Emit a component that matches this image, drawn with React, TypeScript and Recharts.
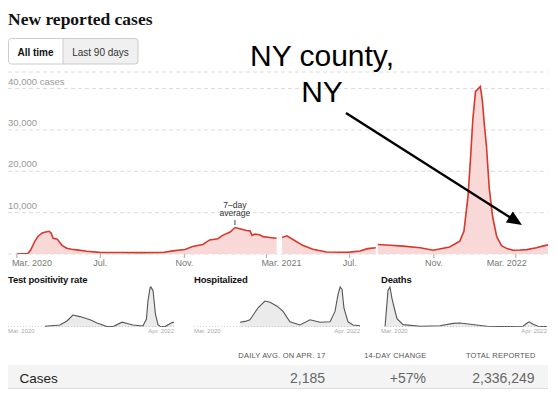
import React from 'react';
import { AreaChart, Area, XAxis, YAxis, CartesianGrid, ReferenceLine } from 'recharts';

// ---- Main chart: 7-day average of new reported cases (day 0 = Mar. 1, 2020)
const caseDays = [0, 16, 20, 26, 31, 37, 42, 47, 50, 53, 59, 66, 73, 80, 88, 102, 121, 151, 180, 214,
  228, 246, 257, 272, 282, 294, 301, 312, 319, 326, 336, 341, 344, 348, 355, 360, 370, 380, 381, 388,
  395, 407, 418, 433, 453, 472, 487, 502, 513, 525, 526, 528, 546, 565, 590, 609, 633, 648, 654, 660,
  664, 667, 671, 674, 678, 681, 684, 687, 691, 696, 702, 709, 717, 726, 736, 746, 760, 769, 777];
const caseValues: (number | null)[] = [0, 100, 900, 3000, 4300, 5100, 5300, 5500, 5100, 3800, 3600, 2100, 1400, 1150, 1000, 650, 400, 350, 330, 380,
  750, 1100, 1800, 2300, 3400, 3700, 4500, 5300, 6400, 6100, 5700, 5600, 4500, 4800, 4650, 4200, 4000, 3800, null, 4000,
  4400, 3200, 2100, 1150, 490, 430, 450, 740, 1300, 1500, null, 2300, 2100, 1900, 1500, 900, 1700, 3100, 5500, 14000,
  24000, 32500, 39300, 39800, 40500, 37000, 31000, 26000, 16000, 9000, 4200, 2000, 1300, 900, 950, 1050, 1500, 1900, 2200];

const monthTickDays = [0, 122, 245, 365, 487, 610, 730];
const monthTickLabels = ['Mar. 2020', 'Jul.', 'Nov.', 'Mar. 2021', 'Jul.', 'Nov.', 'Mar. 2022'];
const yTicks = [10000, 20000, 30000, 40000];
const yTickLabels = ['10,000', '20,000', '30,000', '40,000 cases'];
const annotationDay = 319;

// ---- Small multiples (relative scale, peak = 100)
const positivityDays = [173, 243, 276, 304, 337, 384, 417, 463, 492, 534, 562, 585, 618, 632, 648, 655, 665, 669, 679, 690, 702, 712, 735, 768, 777];
const positivityValues = [2, 5, 15, 30, 26, 18, 10, 1, 1, 12, 8, 5, 3, 3, 20, 65, 98, 100, 90, 33, 6, 2, 1, 11, 12];
const hospDays = [215, 239, 262, 300, 332, 356, 389, 417, 449, 496, 543, 590, 637, 660, 674, 684, 693, 702, 721, 744, 777];
const hospValues = [12, 14, 18, 48, 65, 62, 52, 39, 13, 5, 18, 12, 13, 39, 81, 100, 94, 47, 13, 5, 3];
const deathDays = [19, 33, 42, 51, 61, 75, 103, 183, 276, 337, 370, 417, 496, 571, 665, 684, 693, 712, 735, 758, 777];
const deathValues = [2, 92, 100, 72, 50, 21, 6, 2, 3, 9, 10, 7, 2, 1, 2, 10, 13, 7, 2, 1, 1];

const panelTitles = ['Test positivity rate', 'Hospitalized', 'Deaths'];
const panelStart = 'Mar. 2020';
const panelEnd = 'Apr. 2022';

// ---- Table
const tableHeaders = ['DAILY AVG. ON APR. 17', '14-DAY CHANGE', 'TOTAL REPORTED'];
const tableRowLabel = 'Cases';
const tableValues = ['2,185', '+57%', '2,336,249'];

const caseData = caseDays.map((d, i) => ({ d, v: caseValues[i] }));
const toData = (days: number[], vals: number[]) => days.map((d, i) => ({ d, v: vals[i] }));
const panels = [
  toData(positivityDays, positivityValues),
  toData(hospDays, hospValues),
  toData(deathDays, deathValues),
];

const SANS = '"Liberation Sans", Arial, sans-serif';
const SERIF = '"Liberation Serif", "Times New Roman", serif';

const MonthTick = (props: any) => {
  const { x, y, payload } = props;
  const i = monthTickDays.indexOf(payload.value);
  const label = monthTickLabels[i];
  let anchor: 'start' | 'middle' | 'end' = 'middle';
  let dx = 0;
  if (i === monthTickDays.length - 1) { anchor = 'end'; dx = 11; }
  else if (label.startsWith('Mar.')) { anchor = 'start'; dx = -5; }
  return (
    <text x={x + dx} y={y} dy="0.71em" textAnchor={anchor} fontSize={9} fill="#777" fontFamily={SANS}>
      {label}
    </text>
  );
};

const GridLabel = (props: any) => {
  const vb = props.viewBox || {};
  return (
    <text x={(vb.x ?? 8)} y={(vb.y ?? 0) - 4} textAnchor="start" fontSize={9.5} fill="#999" fontFamily={SANS}>
      {props.text}
    </text>
  );
};

const SevenDayLabel = (props: any) => {
  const vb = props.viewBox || {};
  const cx = vb.x ?? 0;
  const top = vb.y ?? 0;
  return (
    <g>
      <text x={cx} y={top - 12.5} textAnchor="middle" fontSize={8.5} fill="#333" fontFamily={SANS}>7–day</text>
      <text x={cx} y={top - 4} textAnchor="middle" fontSize={8.5} fill="#333" fontFamily={SANS}>average</text>
    </g>
  );
};

const panelLefts = [8, 194, 381];
const PANEL_W = 166;

function Arrow() {
  const x1 = 346, y1 = 113, x2 = 522, y2 = 225;
  const dx = x2 - x1, dy = y2 - y1;
  const len = Math.hypot(dx, dy);
  const ux = dx / len, uy = dy / len;
  const hl = 15, hw = 6.5;
  const bx = x2 - hl * ux, by = y2 - hl * uy;
  const px = -uy * hw, py = ux * hw;
  return (
    <g>
      <line x1={x1} y1={y1} x2={bx + ux * 2} y2={by + uy * 2} stroke="#000" strokeWidth={2.5} />
      <polygon points={`${x2},${y2} ${bx + px},${by + py} ${bx - px},${by - py}`} fill="#000" />
    </g>
  );
}

export default function App() {
  return (
    <div style={{ position: 'absolute', left: 0, top: 0, width: 556, height: 398, background: '#fff', overflow: 'hidden' }}>
      <svg width={556} height={398} style={{ position: 'absolute', left: 0, top: 0 }}>
        <rect x={8} y={365} width={540} height={23} fill="#f4f4f4" />
        <line x1={8} x2={548} y1={388.5} y2={388.5} stroke="#ddd" />
      </svg>

      <div style={{ position: 'absolute', left: 0, top: 0 }}>
        <AreaChart width={556} height={275} data={caseData} margin={{ top: 72, right: 8, left: 8, bottom: 1 }}>
          <CartesianGrid horizontal vertical={false} stroke="#dcdcdc" strokeDasharray="4 3" />
          <XAxis type="number" dataKey="d" domain={[-13, 777]} ticks={monthTickDays} interval={0}
            tick={<MonthTick />} tickLine={{ stroke: '#aaa' }} tickSize={4} axisLine={false} height={20} allowDataOverflow />
          <YAxis type="number" domain={[0, 44000]} ticks={yTicks} hide allowDataOverflow />
          {yTicks.map((t, i) => (
            <ReferenceLine key={t} y={t} stroke="none" ifOverflow="visible"
              label={<GridLabel text={yTickLabels[i]} />} />
          ))}
          <Area type="linear" dataKey="v" stroke="#d8382c" strokeWidth={1.6} fill="#f8d9d7" fillOpacity={1}
            isAnimationActive={false} connectNulls={false} dot={false} activeDot={false} />
          <ReferenceLine segment={[{ x: annotationDay, y: 7000 }, { x: annotationDay, y: 8200 }]} stroke="#444"
            strokeWidth={1} label={<SevenDayLabel />} />
        </AreaChart>
      </div>

      {panels.map((data, k) => (
        <div key={k} style={{ position: 'absolute', left: panelLefts[k], top: 285 }}>
          <AreaChart width={PANEL_W} height={42} data={data} margin={{ top: 0, right: 0, left: 0, bottom: 0 }}>
            <XAxis type="number" dataKey="d" domain={[0, 777]} hide />
            <YAxis type="number" domain={[0, 105]} hide />
            <ReferenceLine y={0} stroke="#aaa" strokeDasharray="1 2" />
            <Area type="linear" dataKey="v" stroke="#555" strokeWidth={1.1} fill="#ebebeb" fillOpacity={1}
              isAnimationActive={false} dot={false} activeDot={false} />
          </AreaChart>
        </div>
      ))}

      <svg width={556} height={398} style={{ position: 'absolute', left: 0, top: 0, pointerEvents: 'none' }}>
        <text x={8} y={25} fontFamily={SERIF} fontWeight={700} fontSize={17.5} fill="#121212">New reported cases</text>

        <rect x={63} y={38.5} width={75} height={25.5} fill="#f0f0f0" />
        <rect x={8.5} y={38.5} width={129.5} height={25.5} rx={3} fill="none" stroke="#ccc" />
        <line x1={63} x2={63} y1={38.5} y2={64} stroke="#ccc" />
        <text x={35.5} y={55.5} textAnchor="middle" fontFamily={SANS} fontWeight={700} fontSize={10} fill="#121212">All time</text>
        <text x={100.5} y={55.5} textAnchor="middle" fontFamily={SANS} fontSize={10} fill="#333">Last 90 days</text>

        <text x={322} y={66} textAnchor="middle" fontFamily={SANS} fontSize={30} fill="#000">NY county,</text>
        <text x={322} y={101.5} textAnchor="middle" fontFamily={SANS} fontSize={30} fill="#000">NY</text>
        <Arrow />

        {panelTitles.map((t, k) => (
          <text key={t} x={panelLefts[k]} y={283} fontFamily={SANS} fontWeight={700} fontSize={9.5}
            letterSpacing={-0.2} fill="#121212">{t}</text>
        ))}
        {panelLefts.map((l, k) => (
          <g key={k}>
            <text x={l} y={333} fontFamily={SANS} fontSize={6} fill="#aaa">{panelStart}</text>
            <text x={l + PANEL_W} y={333} textAnchor="end" fontFamily={SANS} fontSize={6} fill="#aaa">{panelEnd}</text>
          </g>
        ))}

        <text x={325.5} y={358} textAnchor="end" fontFamily={SANS} fontSize={7.5} letterSpacing={0.2} fill="#555">{tableHeaders[0]}</text>
        <text x={426.5} y={358} textAnchor="end" fontFamily={SANS} fontSize={7.5} letterSpacing={0.2} fill="#555">{tableHeaders[1]}</text>
        <text x={535.5} y={358} textAnchor="end" fontFamily={SANS} fontSize={7.5} letterSpacing={0.2} fill="#555">{tableHeaders[2]}</text>

        <text x={19.5} y={383} fontFamily={SANS} fontSize={13.5} fill="#222">{tableRowLabel}</text>
        <text x={325} y={383} textAnchor="end" fontFamily={SANS} fontSize={14} fill="#666">{tableValues[0]}</text>
        <text x={426} y={383} textAnchor="end" fontFamily={SANS} fontSize={14} fill="#666">{tableValues[1]}</text>
        <text x={534.5} y={383} textAnchor="end" fontFamily={SANS} fontSize={14} fill="#666">{tableValues[2]}</text>
      </svg>
    </div>
  );
}
